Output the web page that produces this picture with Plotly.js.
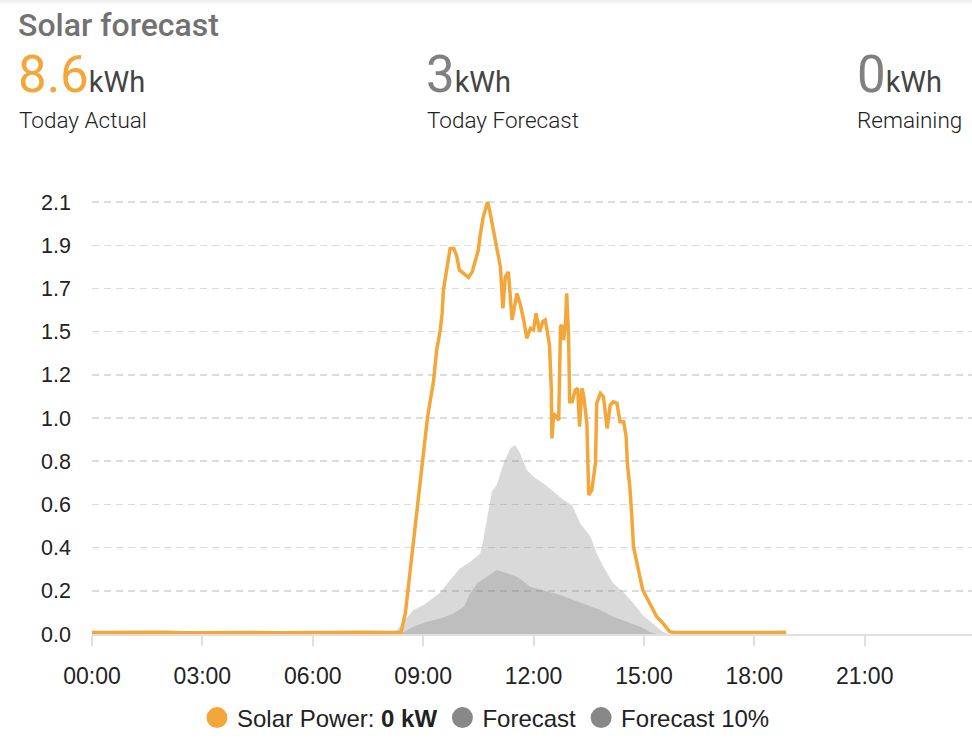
<!DOCTYPE html>
<html>
<head>
<meta charset="utf-8">
<script src="https://cdn.plot.ly/plotly-3.0.1.min.js"></script>
<style>
  html, body { margin: 0; padding: 0; background: #fff; }
  #wrap { position: relative; width: 972px; height: 742px; overflow: hidden; background: #fff; }
  #chart { position: absolute; left: 0; top: 0; width: 972px; height: 742px; }
  .shadow { position: absolute; left: 0; top: 0; width: 972px; height: 5px;
            background: linear-gradient(rgba(0,0,0,0.07), rgba(0,0,0,0)); z-index: 2; }
  .hdr { position: absolute; font-family: Roboto, "Noto Sans", sans-serif; line-height: 1; white-space: nowrap; z-index: 3; }
  .title { left: 18px; top: 9px; font-size: 32px; font-weight: 500; color: #727272; }
  .big { font-size: 51px; font-weight: 400; color: #808080; }
  .big.actual { color: #f3a73b; }
  .unit { font-size: 29px; font-weight: 400; color: #444; }
  .lbl { font-size: 22.5px; font-weight: 300; color: #212121; }
</style>
</head>
<body>
<div id="wrap">
  <div class="shadow"></div>
  <div id="chart"></div>
  <div class="hdr title">Solar forecast</div>
  <div class="hdr" style="left:18px; top:49px;"><span class="big actual">8.6</span><span class="unit">kWh</span></div>
  <div class="hdr lbl" style="left:19px; top:109px;">Today Actual</div>
  <div class="hdr" style="left:426px; top:49px;"><span class="big">3</span><span class="unit">kWh</span></div>
  <div class="hdr lbl" style="left:427px; top:109px;">Today Forecast</div>
  <div class="hdr" style="left:857px; top:49px;"><span class="big">0</span><span class="unit">kWh</span></div>
  <div class="hdr lbl" style="left:857px; top:109px;">Remaining</div>
</div>
<script>
// ---- Data ----
const DAY = '2024-06-01 ';

const solarTimes = [
  '00:00','00:30','01:00','01:30','02:00','02:30','03:00','03:30','04:00','04:30',
  '05:00','05:30','06:00','06:30','07:00','07:30','08:00','08:20','08:24','08:31',
  '08:35','08:44','08:51','08:59','09:07','09:17','09:22','09:28','09:31','09:33',
  '09:39','09:44','09:50','09:55','09:59','10:06','10:14','10:20','10:25','10:30',
  '10:33','10:38','10:45','10:49','10:55','11:00','11:06','11:10','11:14','11:19',
  '11:25','11:33','11:38','11:44','11:49','11:55','12:00','12:04','12:10','12:15',
  '12:19','12:22','12:26','12:29','12:30','12:33','12:38','12:41','12:44','12:46',
  '12:49','12:52','12:54','12:57','12:59','13:03','13:08','13:12','13:15','13:19',
  '13:22','13:27','13:30','13:35','13:41','13:43','13:49','13:54','14:00','14:05',
  '14:10','14:16','14:21','14:27','14:31','14:33','14:37','14:38','14:40','14:43',
  '14:51','14:58','15:15','15:21','15:31','15:42','15:50','16:30','17:00','17:30',
  '18:00','18:30','18:52'
];
const solarPower = [
  0.007,0.008,0.006,0.007,0.008,0.006,0.007,0.006,0.008,0.007,
  0.006,0.007,0.008,0.007,0.006,0.008,0.007,0.006,0.008,0.100,
  0.208,0.416,0.624,0.832,1.040,1.220,1.367,1.464,1.545,1.656,
  1.768,1.857,1.857,1.817,1.753,1.737,1.717,1.744,1.793,1.849,
  1.921,2.009,2.081,2.033,1.937,1.849,1.768,1.568,1.720,1.744,
  1.512,1.640,1.592,1.512,1.424,1.472,1.464,1.544,1.455,1.504,
  1.512,1.464,1.391,1.175,0.942,1.063,1.046,1.030,1.480,1.488,
  1.416,1.496,1.640,1.448,1.118,1.118,1.175,1.183,0.998,1.183,
  1.143,1.014,0.669,0.693,0.822,1.111,1.159,1.143,0.990,1.103,
  1.118,1.111,1.022,1.022,0.950,0.822,0.709,0.629,0.580,0.420,
  0.308,0.212,0.116,0.083,0.052,0.011,0.007,0.006,0.007,0.006,
  0.008,0.007,0.008
];

const forecastTimes = [
  '08:12','08:44','09:01','09:28','09:44','10:00','10:17','10:33','10:38','10:47',
  '10:52','11:00','11:11','11:22','11:30','11:38','11:49','12:00','12:16','12:33',
  '12:49','13:03','13:16','13:33','13:43','13:54','14:10','14:27','14:43','14:58',
  '15:14','15:31','15:40'
];
const forecastValues = [
  0.000,0.115,0.140,0.200,0.260,0.316,0.348,0.388,0.450,0.600,
  0.685,0.717,0.820,0.894,0.910,0.870,0.790,0.757,0.725,0.685,
  0.645,0.620,0.533,0.468,0.388,0.324,0.244,0.200,0.148,0.090,
  0.050,0.010,0.000
];

const forecast10Times = [
  '08:23','08:44','09:06','09:28','09:50','10:06','10:17','10:28','10:44','11:00',
  '11:17','11:33','11:55','12:22','12:44','13:05','13:27','13:49','14:10','14:32',
  '14:54','15:10','15:20'
];
const forecast10Values = [
  0.000,0.035,0.059,0.075,0.100,0.130,0.196,0.244,0.276,0.308,
  0.292,0.276,0.228,0.204,0.188,0.164,0.140,0.116,0.083,0.059,
  0.035,0.010,0.000
];

const yTickValues = [0, 0.208, 0.416, 0.624, 0.832, 1.04, 1.248, 1.456, 1.664, 1.872, 2.08];
const yTickLabels = ['0.0','0.2','0.4','0.6','0.8','1.0','1.2','1.5','1.7','1.9','2.1'];

const seriesNames = ['Solar Power: <b>0 kW</b>', 'Forecast', 'Forecast 10%'];
const ORANGE = '#f3a73b';
const GREY = '#888888';
const GREY_FILL = 'rgba(128,128,128,0.3)';

const toX = arr => arr.map(t => DAY + t);

const traces = [
  { type: 'scatter', mode: 'lines', x: toX(forecastTimes), y: forecastValues,
    fill: 'tozeroy', fillcolor: GREY_FILL, line: { width: 0, color: GREY },
    showlegend: false, hoverinfo: 'skip' },
  { type: 'scatter', mode: 'lines', x: toX(forecast10Times), y: forecast10Values,
    fill: 'tozeroy', fillcolor: GREY_FILL, line: { width: 0, color: GREY },
    showlegend: false, hoverinfo: 'skip' },
  { type: 'scatter', mode: 'lines', x: toX(solarTimes), y: solarPower,
    line: { width: 3.5, color: ORANGE }, cliponaxis: false,
    showlegend: false, hoverinfo: 'skip' },
  // legend entries
  { type: 'scatter', mode: 'markers', x: [null], y: [null], name: seriesNames[0],
    marker: { size: 16, color: ORANGE, line: { width: 5, color: ORANGE } } },
  { type: 'scatter', mode: 'markers', x: [null], y: [null], name: seriesNames[1],
    marker: { size: 16, color: GREY, line: { width: 5, color: GREY } } },
  { type: 'scatter', mode: 'markers', x: [null], y: [null], name: seriesNames[2],
    marker: { size: 16, color: GREY, line: { width: 5, color: GREY } } }
];

const layout = {
  width: 972, height: 742,
  margin: { l: 92, r: 0, t: 200, b: 108, pad: 0 },
  paper_bgcolor: 'rgba(0,0,0,0)', plot_bgcolor: 'rgba(0,0,0,0)',
  font: { family: '"Liberation Sans", Arial, sans-serif', color: '#222', size: 22 },
  showlegend: true,
  xaxis: {
    type: 'date',
    range: [DAY + '00:00', DAY + '23:55'],
    tickformat: '%H:%M', dtick: 3 * 3600000, tick0: DAY + '00:00',
    ticks: 'outside', ticklen: 10, tickwidth: 2, tickcolor: '#e0e0e0',
    ticklabelstandoff: 10,
    showline: true, linecolor: '#e0e0e0', linewidth: 2,
    showgrid: false, zeroline: false,
    tickfont: { size: 23, color: '#222' },
    fixedrange: true
  },
  yaxis: {
    range: [0, 2.09],
    tickmode: 'array', tickvals: yTickValues, ticktext: yTickLabels,
    showgrid: true, gridcolor: '#dcdcdc', gridwidth: 1.5, griddash: '7px,5px',
    zeroline: false, showline: false, ticks: '',
    ticklabelstandoff: 20,
    tickfont: { size: 21.5, color: '#222' },
    fixedrange: true
  },
  legend: {
    orientation: 'h', xref: 'container', yref: 'container',
    x: 0.5, xanchor: 'center', y: 1 - 718 / 742, yanchor: 'middle',
    font: { size: 24, color: '#222' }, bgcolor: 'rgba(0,0,0,0)',
    itemclick: false, itemdoubleclick: false
  }
};

Plotly.newPlot('chart', traces, layout, { displayModeBar: false, staticPlot: true });
</script>
</body>
</html>
